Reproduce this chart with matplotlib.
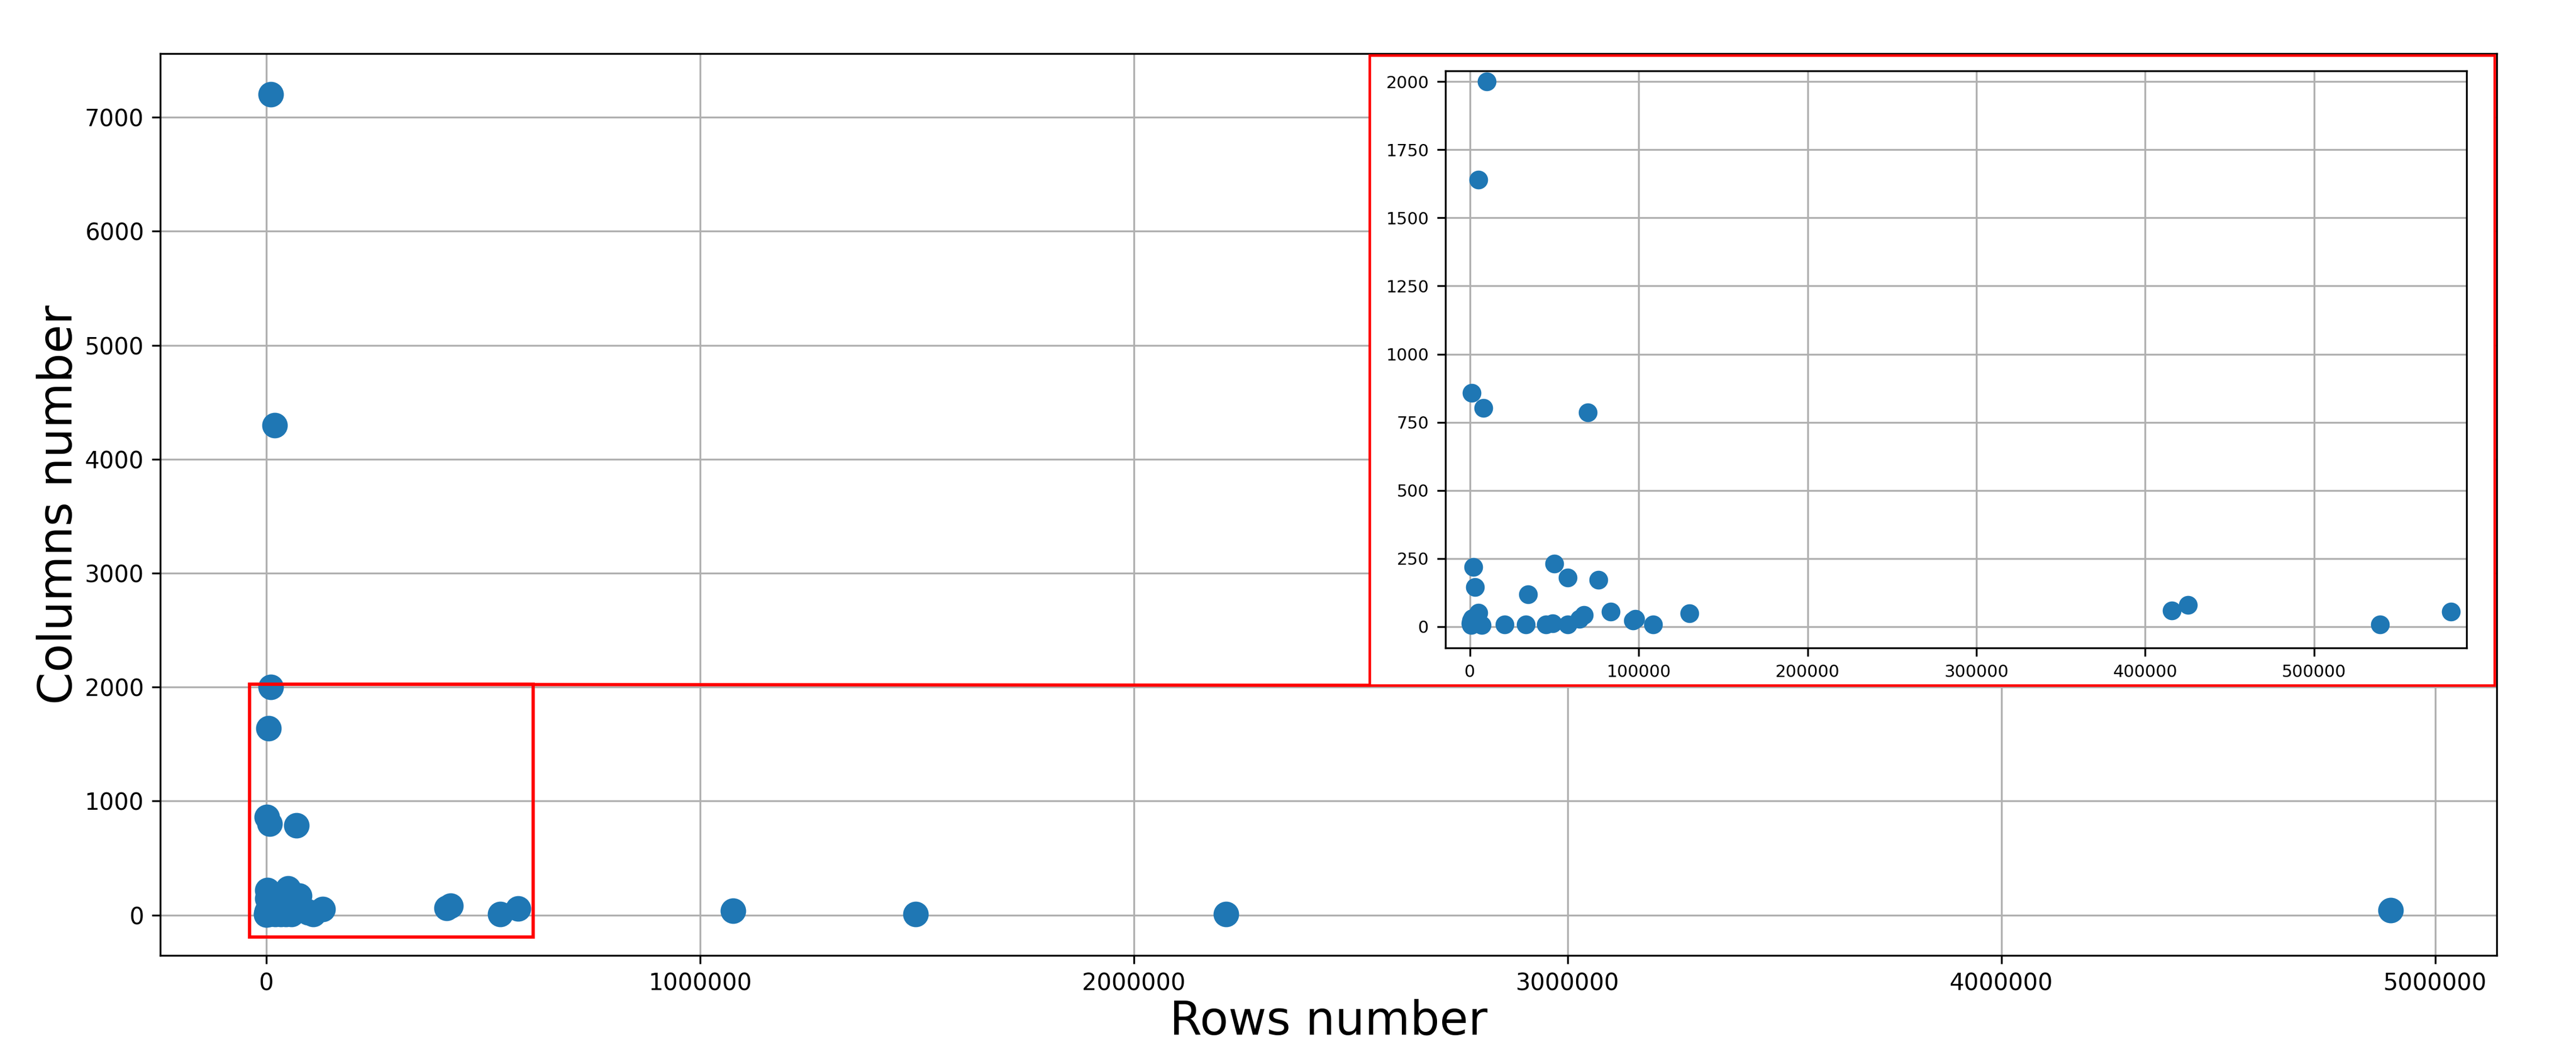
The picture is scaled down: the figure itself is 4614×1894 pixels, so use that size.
import matplotlib
matplotlib.use("Agg")
import numpy as np
import matplotlib.pyplot as plt
from matplotlib.patches import Rectangle, ConnectionPatch
from matplotlib.ticker import MultipleLocator

# rows / columns of each dataset
rows = [10000, 19000, 10000, 5000, 1000, 8000, 70000,
        2000, 3000, 50000, 58000, 76000, 34500, 5000,
        300, 600, 900, 1500, 7000, 20500, 33000, 45000, 49000, 57900,
        65000, 67500, 83500, 96500, 98000, 108500, 130000,
        415700, 425300, 539200, 581000,
        1076000, 1497000, 2213000, 4897000]
cols = [7200, 4300, 2000, 1640, 858, 802, 786,
        218, 145, 231, 181, 171, 119, 52,
        12, 5, 22, 30, 7, 9, 9, 8, 13, 8,
        28, 43, 55, 22, 29, 9, 50,
        60, 79, 9, 56,
        35, 10, 10, 40]

rows = np.array(rows)
cols = np.array(cols)

# zoomed region shown in the inset
zoom_x = (-38600, 615000)
zoom_y = (-191, 2025)
inset_xlim = (-14500, 590300)
inset_ylim = (-78, 2039)

fig = plt.figure(figsize=(4614 / 300, 1894 / 300), dpi=300)
ax = fig.add_axes([0.0622, 0.0961, 0.9070, 0.8532])
ax.scatter(rows, cols, s=100, color="#1f77b4", zorder=2)
# freeze the autoscaled limits before adding the red decorations
ax.set_xlim(ax.get_xlim())
ax.set_ylim(ax.get_ylim())
ax.grid(True)
ax.set_axisbelow(True)
ax.ticklabel_format(style="plain", useOffset=False)
ax.tick_params(labelsize=10)
ax.set_xlabel("Rows number", fontsize=20, labelpad=1.5)
ax.set_ylabel("Columns number", fontsize=20, labelpad=1.5)

# box around the zoomed region
ax.add_patch(Rectangle((zoom_x[0], zoom_y[0]), zoom_x[1] - zoom_x[0],
                       zoom_y[1] - zoom_y[0], fill=False, edgecolor="red",
                       lw=1.4, zorder=5))

# white frame that holds the inset
fx0, fy0, fx1, fy1 = 0.5176, 0.2995, 0.999, 0.998
ax.add_patch(Rectangle((fx0, fy0), fx1 - fx0, fy1 - fy0, transform=ax.transAxes,
                       facecolor="white", edgecolor="red", lw=1.1,
                       zorder=6, clip_on=False))
con = ConnectionPatch(xyA=(zoom_x[0], zoom_y[1]), coordsA=ax.transData,
                      xyB=(fx0, fy0), coordsB=ax.transAxes,
                      color="red", lw=1.4, zorder=7)
ax.add_artist(con)

# inset
mask = (rows < 600000) & (cols <= 2000)
axin = fig.add_axes([0.5611, 0.3870, 0.3964, 0.5459], zorder=3)
axin.scatter(rows[mask], cols[mask], s=50, color="#1f77b4", zorder=2)
axin.set_xlim(*inset_xlim)
axin.set_ylim(*inset_ylim)
axin.xaxis.set_major_locator(MultipleLocator(100000))
axin.yaxis.set_major_locator(MultipleLocator(250))
axin.ticklabel_format(style="plain", useOffset=False)
axin.tick_params(labelsize=7.3)
axin.grid(True)
axin.set_axisbelow(True)

fig.savefig("out.png", dpi=300)
plt.close(fig)
